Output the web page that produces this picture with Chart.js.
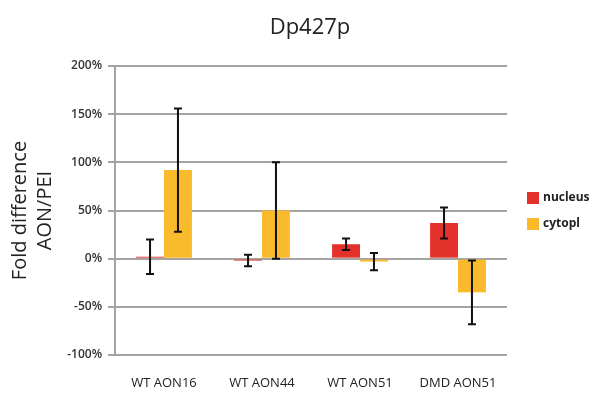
<!DOCTYPE html>
<html><head><meta charset="utf-8">
<script src="https://cdn.jsdelivr.net/npm/chart.js@4"></script>
<style>html,body{margin:0;padding:0;background:#fff}#wrap{width:597px;height:394px}</style>
</head><body><div id="wrap"><canvas id="c" width="597" height="394"></canvas></div>
<script>
const categories = ["WT AON16", "WT AON44", "WT AON51", "DMD AON51"];
const nucleus = [2, -2, 15, 37];
const nucleusErr = [18, 6, 6, 16];
const cytopl = [92, 50, -3, -35];
const cytoplErr = [64, 50, 9, 33];
const yTicks = [-100, -50, 0, 50, 100, 150, 200];

const errorBars = {
  id: 'errorBars',
  afterDatasetsDraw(chart) {
    const ctx = chart.ctx, y = chart.scales.y;
    const errs = [nucleusErr, cytoplErr];
    chart.data.datasets.forEach((ds, di) => {
      const meta = chart.getDatasetMeta(di);
      meta.data.forEach((bar, i) => {
        const v = ds.data[i], e = errs[di][i];
        const yt = y.getPixelForValue(v + e), yb = y.getPixelForValue(v - e);
        ctx.save();
        ctx.strokeStyle = '#111'; ctx.lineWidth = 2;
        ctx.beginPath();
        ctx.moveTo(bar.x, yt); ctx.lineTo(bar.x, yb);
        ctx.moveTo(bar.x - 4, yt); ctx.lineTo(bar.x + 4, yt);
        ctx.moveTo(bar.x - 4, yb); ctx.lineTo(bar.x + 4, yb);
        ctx.stroke();
        ctx.restore();
      });
    });
  }
};
const customText = {
  id: 'customText',
  afterDraw(chart) {
    const ctx = chart.ctx;
    ctx.save();
    ctx.fillStyle = '#222';
    ctx.font = '22px "Open Sans", Arial, sans-serif';
    ctx.textAlign = 'center'; ctx.textBaseline = 'middle';
    ctx.fillText('Dp427p', 310, 28);
    const items = chart.data.datasets;
    ctx.font = 'bold 12px "Open Sans", Arial, sans-serif';
    ctx.textAlign = 'left';
    items.forEach((ds, i) => {
      const yy = 198 + i * 26;
      ctx.fillStyle = ds.backgroundColor;
      ctx.fillRect(527, yy - 6, 12, 12);
      ctx.fillStyle = '#222';
      ctx.fillText(ds.label, 543, yy);
    });
    ctx.restore();
  }
};

new Chart(document.getElementById('c'), {
  type: 'bar',
  data: {
    labels: categories,
    datasets: [
      { label: 'nucleus', data: nucleus, backgroundColor: '#E3312B' },
      { label: 'cytopl', data: cytopl, backgroundColor: '#F9BA2C' }
    ]
  },
  options: {
    responsive: false, animation: false,
    layout: { padding: { top: 66, right: 90, left: 0, bottom: 0 } },
    plugins: { legend: { display: false }, title: { display: false }, tooltip: { enabled: false } },
    datasets: { bar: { categoryPercentage: 0.57, barPercentage: 1 } },
    scales: {
      x: {
        grid: { display: false },
        border: { display: false },
        ticks: { color: '#222', font: { size: 13, family: '"Open Sans", Arial, sans-serif' }, padding: 12 },
        afterFit(s) { s.height = 39; }
      },
      y: {
        min: -100, max: 200,
        afterBuildTicks(s) { s.ticks = yTicks.map(v => ({ value: v })); },
        grid: { color: '#A6A2A2', lineWidth: 2, tickLength: 7 },
        border: { color: '#A6A2A2', width: 2 },
        ticks: { color: '#333', font: { size: 12, weight: '600', family: '"Open Sans", Arial, sans-serif' }, padding: 6,
                 callback: v => v + '%' },
        title: { display: true, text: ['Fold difference', 'AON/PEI'], color: '#222',
                 font: { size: 20, family: '"Open Sans", Arial, sans-serif', lineHeight: 1.25 }, padding: { top: 8, bottom: 0 } },
        afterFit(s) { s.width = 115; }
      }
    }
  },
  plugins: [errorBars, customText]
});
</script></body></html>
